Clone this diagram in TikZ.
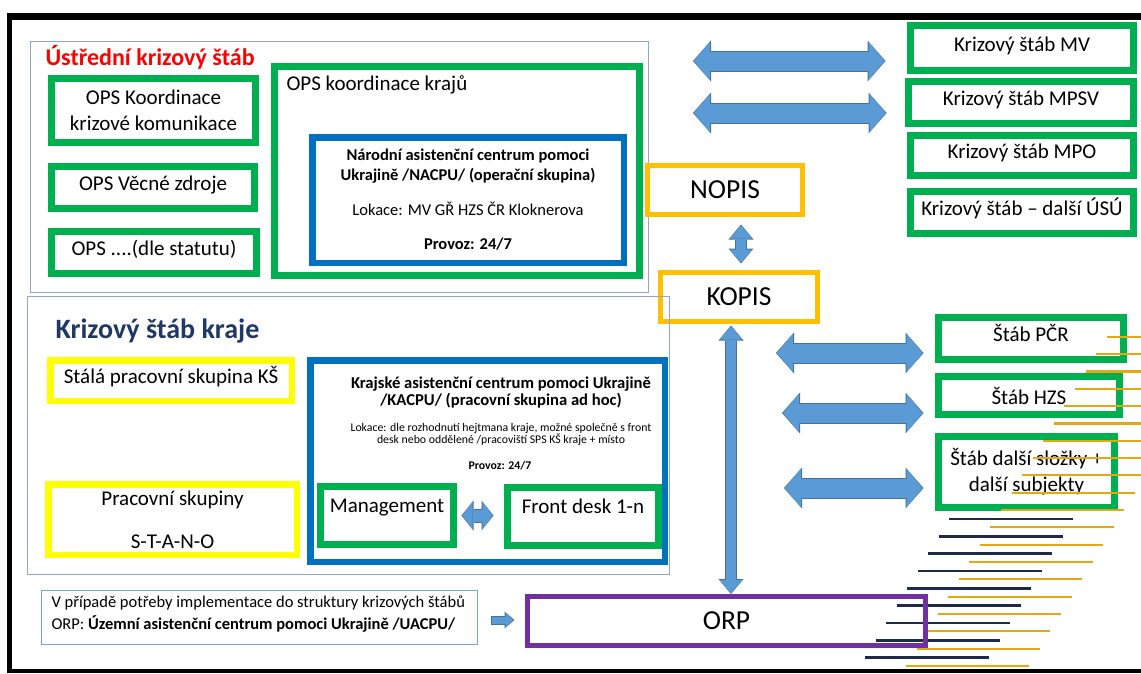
\documentclass[tikz,border=0pt]{standalone}
\usepackage{fontspec}
\setmainfont{Carlito}
\usepackage{tikz}
\usetikzlibrary{arrows.meta,calc,positioning}

\definecolor{ksgreen}{HTML}{00B050}
\definecolor{ksblue}{HTML}{0070C0}
\definecolor{ksorange}{HTML}{FFC000}
\definecolor{ksyellow}{HTML}{FFFF00}
\definecolor{kspurple}{HTML}{7030A0}
\definecolor{ksred}{HTML}{FF0000}
\definecolor{ksnavy}{HTML}{1F3864}
\definecolor{panelline}{HTML}{8FA8C8}
\definecolor{noteline}{HTML}{7AA3D6}
\definecolor{arrowfill}{HTML}{5B9BD5}
\definecolor{arrowline}{HTML}{41719C}
\definecolor{decogold}{HTML}{E5A712}
\definecolor{deconavy}{HTML}{1E2A48}

\begin{document}
\begin{tikzpicture}[x=1pt,y=-1pt]
		\tikzstyle{Panel}	= [draw=panelline, line width=1.2pt, inner sep=0pt]
		\tikzstyle{Box}		= [fill=white, inner sep=0pt, align=center, font=\fontsize{21}{26}\selectfont]
		\tikzstyle{Green}	= [Box, draw=ksgreen, line width=7pt]
		\tikzstyle{Blue}	= [Box, draw=ksblue, line width=6.5pt]
		\tikzstyle{Orange}	= [Box, draw=ksorange, line width=5pt, font=\fontsize{27.5}{30}\selectfont]
		\tikzstyle{Yellow}	= [Box, draw=ksyellow, line width=6.5pt]
		\tikzstyle{Purple}	= [Box, fill=none, draw=kspurple, line width=5pt, font=\fontsize{27.5}{30}\selectfont]
		\tikzstyle{TextUp}	= [text height=15pt, text depth=9pt]
		\tikzstyle{TextTop}	= [text height=15pt, text depth=22pt]
		\tikzstyle{BigArrow}	= [draw=arrowfill, line width=19pt, {Triangle[length=16pt,width=38.5pt,line width=0pt]}-{Triangle[length=16pt,width=38.5pt,line width=0pt]}, shorten <=1pt, shorten >=1pt,
			preaction={draw=arrowline, line width=21pt, shorten <=0pt, shorten >=0pt, {Triangle[length=18pt,width=41pt,line width=0pt]}-{Triangle[length=18pt,width=41pt,line width=0pt]}}]
		\tikzstyle{VArrow}	= [draw=arrowfill, line width=10pt, {Triangle[length=13pt,width=22.5pt,line width=0pt]}-{Triangle[length=13pt,width=22.5pt,line width=0pt]}, shorten <=1pt, shorten >=1pt,
			preaction={draw=arrowline, line width=12pt, shorten <=0pt, shorten >=0pt, {Triangle[length=15pt,width=25pt,line width=0pt]}-{Triangle[length=15pt,width=25pt,line width=0pt]}}]
		\tikzstyle{SmallArrow}	= [draw=arrowfill, line width=12pt, {Triangle[length=10pt,width=27.5pt,line width=0pt]}-{Triangle[length=10pt,width=27.5pt,line width=0pt]}, shorten <=1pt, shorten >=1pt,
			preaction={draw=arrowline, line width=14pt, shorten <=0pt, shorten >=0pt, {Triangle[length=12pt,width=30pt,line width=0pt]}-{Triangle[length=12pt,width=30pt,line width=0pt]}}]
		\tikzstyle{TinyArrow}	= [draw=arrowfill, line width=7pt, -{Triangle[length=8pt,width=14.5pt,line width=0pt]}, shorten <=1pt, shorten >=1pt,
			preaction={draw=arrowline, line width=9pt, shorten <=0pt, shorten >=0pt, -{Triangle[length=10pt,width=17pt,line width=0pt]}}]
		\tikzstyle{GoldLine}	= [decogold, line width=2.3pt]
		\tikzstyle{NavyLine}	= [deconavy, line width=2.8pt]

		\useasboundingbox (0,0) rectangle (1141,673);

		% frame
		\draw [line width=7pt] (7,16.5) -- (1141,16.5);
		\draw [line width=5pt] (9.5,13) -- (9.5,673);
		\draw [line width=4pt] (7,671) -- (1141,671);

		% central crisis staff
		\node (UKS) at (339.5,167) [Panel, minimum width=617.8, minimum height=250.8] {};
		\node (UKSt) at (42,65) [anchor=base west, text=ksred, font=\bfseries\fontsize{24}{28}\selectfont] {Ústřední krizový štáb};
		\node (OPSkom) at (153.5,110.5) [Green, minimum width=204, minimum height=64] {OPS Koordinace\\krizové komunikace};
		\node (OPSzdr) at (153,187.5) [Green, TextUp, minimum width=203, minimum height=42] {OPS Věcné zdroje};
		\node (OPSsta) at (154,252.5) [Green, TextUp, minimum width=205, minimum height=42] {OPS ....(dle statutu)};
		\node (OPSkr) at (457,171) [Green, minimum width=365, minimum height=209] {};
		\node (OPSkrt) at (283,90) [anchor=base west, font=\fontsize{21}{26}\selectfont] {OPS koordinace krajů};
		\node (NACPU) at (468,200) [Blue, minimum width=311.5, minimum height=125.5, font=\fontsize{16.5}{20}\selectfont]
			{\textbf{Národní asistenční centrum pomoci}\\\textbf{Ukrajině /NACPU/ (operační skupina)}\\[15pt]Lokace: MV GŘ HZS ČR Kloknerova\\[14pt]\textbf{Provoz: 24/7}};

		% ministries
		\node (KsMV) at (1022,48) [Green, TextUp, minimum width=223, minimum height=45] {Krizový štáb MV};
		\node (KsMPSV) at (1021,102.5) [Green, TextUp, minimum width=225, minimum height=42] {Krizový štáb MPSV};
		\node (KsMPO) at (1022,155.5) [Green, TextUp, minimum width=223, minimum height=40] {Krizový štáb MPO};
		\node (KsUSU) at (1022,212.5) [Green, TextUp, minimum width=223, minimum height=42] {Krizový štáb – další ÚSÚ};

		\node (NOPIS) at (725,190) [Orange, minimum width=155, minimum height=49] {NOPIS};
		\node (KOPIS) at (739,297) [Orange, minimum width=157, minimum height=49] {KOPIS};

		% regional crisis staff
		\node (KSK) at (348.5,435.5) [Panel, minimum width=641.8, minimum height=277.8] {};
		\node (KSKt) at (52,338) [anchor=base west, text=ksnavy, font=\bfseries\fontsize{28}{32}\selectfont] {Krizový štáb kraje};
		\node (StalaPS) at (171,380.5) [Yellow, TextUp, minimum width=241.5, minimum height=40.5] {Stálá pracovní skupina KŠ};
		\node (PracSk) at (172.5,519.5) [Yellow, minimum width=248.5, minimum height=70.5] {Pracovní skupiny\\[17pt]S-T-A-N-O};
		\node (KACPU) at (487.5,461) [Blue, minimum width=354.5, minimum height=201.5] {};
		\node (KACPUh) at (501,392.5) [align=center, font=\bfseries\fontsize{16.6}{15}\selectfont] {Krajské asistenční centrum pomoci Ukrajině\\/KACPU/ (pracovní skupina ad hoc)};
		\node (KACPUl) at (501,434) [align=center, font=\fontsize{11.8}{12}\selectfont] {Lokace: dle rozhodnutí hejtmana kraje, možné společně s front\\desk nebo oddělené /pracoviští SPS KŠ kraje + místo};
		\node (KACPUp) at (500,466) [font=\bfseries\fontsize{11.8}{12}\selectfont] {Provoz: 24/7};
		\node (Mgmt) at (387,515.5) [Green, TextTop, minimum width=133, minimum height=58] {Management};
		\node (FrontD) at (583,516.5) [Green, TextTop, minimum width=151, minimum height=58] {Front desk 1-n};

		% other staffs
		\node (StabPCR) at (1031,338.5) [Green, TextUp, minimum width=185, minimum height=42] {Štáb PČR};
		\node (StabHZS) at (1029,395.5) [Green, minimum width=181, minimum height=38] {Štáb HZS};
		\node (StabDalsi) at (1026.5,472) [Green, minimum width=176, minimum height=71] {Štáb další složky +\\další subjekty};

		% municipality
		\node (Note) at (259.5,617.5) [draw=noteline, line width=1.2pt, inner sep=0pt, minimum width=435.8, minimum height=53.8] {};
		\node (Notet) at (48,614) [anchor=west, align=left, font=\fontsize{16.5}{22}\selectfont] {V případě potřeby implementace do struktury krizových štábů\\ORP: \textbf{Územní asistenční centrum pomoci Ukrajině /UACPU/}};

		\coordinate (aMV) at (693,61);
		\coordinate (aMPSV) at (693,113);
		\coordinate (aPCR) at (776,353);
		\coordinate (aHZS) at (782,413);
		\coordinate (aDalsi) at (784,488);

		\draw [BigArrow] (aMV) -- ($(aMV -| KsMV.west)+(-21.5,0)$);
		\draw [BigArrow] (aMPSV) -- ($(aMPSV -| KsMPSV.west)+(-18.5,0)$);
		\draw [BigArrow] (aPCR) -- ($(aPCR -| StabPCR.west)+(-11.5,0)$);
		\draw [BigArrow] (aHZS) -- ($(aHZS -| StabHZS.west)+(-11.5,0)$);
		\draw [BigArrow] (aDalsi) -- ($(aDalsi -| StabDalsi.west)+(-11.5,0)$);
		\draw [VArrow] ($(KOPIS.north |- NOPIS.south)+(2,7.5)$) -- ($(KOPIS.north)+(2,-6.5)$);
		\draw [SmallArrow] ($(Mgmt.east)+(4.5,0)$) -- ($(FrontD.west)+(-10.5,-1)$);

		% decoration
		\draw [GoldLine] (1106.7,336.7) -- ++(123.3,0);
		\draw [GoldLine] (1096.1,354.0) -- ++(123.3,0);
		\draw [GoldLine] (1085.6,371.4) -- ++(123.3,0);
		\draw [GoldLine] (1075.0,388.7) -- ++(123.3,0);
		\draw [GoldLine] (1064.4,406.0) -- ++(123.3,0);
		\draw [GoldLine] (1053.9,423.4) -- ++(123.3,0);
		\draw [GoldLine] (1043.3,440.7) -- ++(123.3,0);
		\draw [GoldLine] (1032.7,458.0) -- ++(123.3,0);
		\draw [GoldLine] (1022.1,475.3) -- ++(123.3,0);
		\draw [GoldLine] (1011.6,492.7) -- ++(123.3,0);
		\draw [GoldLine] (1001.0,510.0) -- ++(123.3,0);
		\draw [GoldLine] (990.4,527.3) -- ++(123.3,0);
		\draw [GoldLine] (979.9,544.7) -- ++(123.3,0);
		\draw [GoldLine] (969.3,562.0) -- ++(123.3,0);
		\draw [GoldLine] (958.7,579.3) -- ++(123.3,0);
		\draw [GoldLine] (948.2,596.7) -- ++(123.3,0);
		\draw [GoldLine] (937.6,614.0) -- ++(123.3,0);
		\draw [GoldLine] (927.0,631.3) -- ++(123.3,0);
		\draw [GoldLine] (916.5,648.7) -- ++(123.3,0);
		\draw [GoldLine] (905.9,666.0) -- ++(123.3,0);
		\draw [NavyLine] (949.3,519.0) -- ++(124,0);
		\draw [NavyLine] (938.8,536.3) -- ++(124,0);
		\draw [NavyLine] (928.3,553.7) -- ++(124,0);
		\draw [NavyLine] (917.8,571.0) -- ++(124,0);
		\draw [NavyLine] (907.3,588.3) -- ++(124,0);
		\draw [NavyLine] (896.8,605.7) -- ++(124,0);
		\draw [NavyLine] (886.3,623.0) -- ++(124,0);
		\draw [NavyLine] (875.8,640.3) -- ++(124,0);
		\draw [NavyLine] (865.3,657.7) -- ++(124,0);

		\node (ORP) at (726.5,621) [Purple, minimum width=398, minimum height=49] {ORP};
		\draw [VArrow] ($(KOPIS.south)+(-8,1.5)$) -- ($(KOPIS.south |- ORP.north)+(-8,0)$);
		\draw [TinyArrow] ($(Note.east)+(12.5,2.5)$) -- ($(ORP.west)+(-10.5,-1)$);
	\end{tikzpicture}
\end{document}
